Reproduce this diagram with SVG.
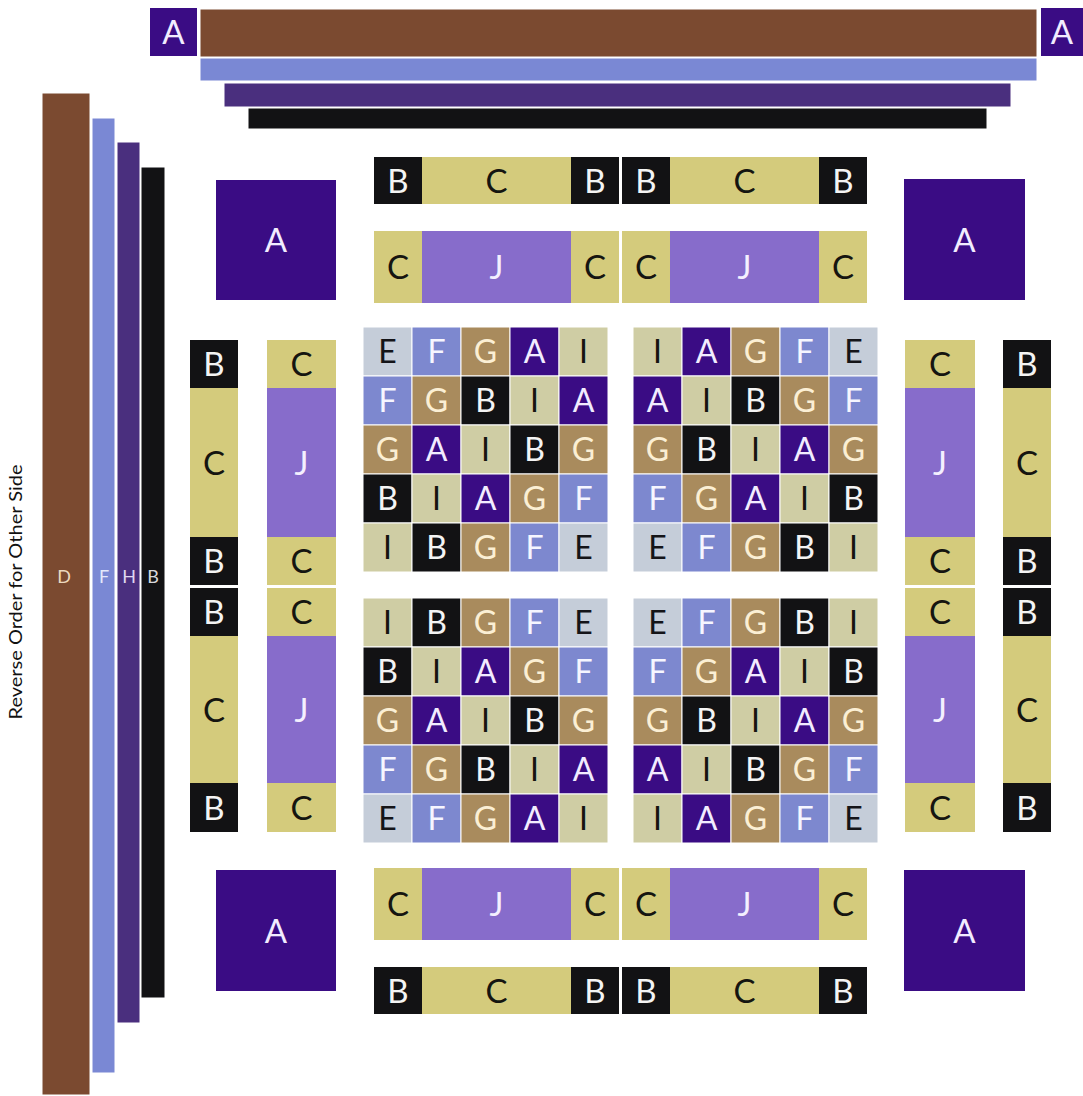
<svg xmlns="http://www.w3.org/2000/svg" width="1083" height="1096" viewBox="0 0 1083 1096">
<style>
text{font-family:Lato,"Open Sans","Liberation Sans",sans-serif;text-anchor:middle}
.c rect{stroke:#fff;stroke-width:1}
.c text{font-size:32px}
.s text{font-size:33px}
.A rect{fill:#3a0c84}.A text{fill:#f2ecff}
.B rect{fill:#121214}.B text{fill:#f4f4f4}
.C rect{fill:#d4cb7c}.C text{fill:#151510}
.E rect{fill:#c5cdd9}.E text{fill:#141418}
.F rect{fill:#7d88cf}.F text{fill:#f6f6ff}
.G rect{fill:#a98b5d}.G text{fill:#fbefd4}
.I rect{fill:#cfcda4}.I text{fill:#151510}
.J rect{fill:#876ccb}.J text{fill:#f4f0ff}
.bar{stroke:#fff;stroke-width:1}
.lbl{font-size:18px}
</style>
<rect width="1083" height="1096" fill="#fff"/>

<!-- top border strips -->
<g id="top-strips">
<g id="top-A-left" class="A s"><rect x="150" y="8" width="47" height="48"/><text x="173.5" y="44">A</text></g>
<rect class="bar" x="200" y="9" width="837" height="48" fill="#7b4a30"/>
<rect class="bar" x="200" y="58" width="837" height="23" fill="#7a88d4"/>
<rect class="bar" x="224" y="83" width="787" height="24" fill="#4a2f7e"/>
<rect class="bar" x="248" y="108" width="739" height="21" fill="#121214"/>
<g id="top-A-right" class="A s"><rect x="1041" y="8" width="42" height="48"/><text x="1062" y="44">A</text></g>
</g>

<!-- left border strips -->
<g id="left-strips">
<rect class="bar" x="42" y="93" width="48" height="1002" fill="#7b4a30"/>
<rect class="bar" x="92" y="118" width="23" height="955" fill="#7a88d4"/>
<rect class="bar" x="117" y="142" width="23" height="881" fill="#4a2f7e"/>
<rect class="bar" x="141" y="167" width="24" height="831" fill="#121214"/>
<text class="lbl" x="64" y="583" fill="#ecd9bf">D</text>
<text class="lbl" x="104" y="583" fill="#e4e8fb">F</text>
<text class="lbl" x="129" y="583" fill="#e0d8f0">H</text>
<text class="lbl" x="153" y="583" fill="#d8d8dc">B</text>
</g>
<text id="side-note" transform="translate(22,592) rotate(-90)" font-size="18" fill="#111" textLength="255" lengthAdjust="spacingAndGlyphs">Reverse Order for Other Side</text>

<!-- corner A squares -->
<g id="A-tl" class="A s"><rect x="216" y="180" width="120" height="120"/><text x="276" y="252">A</text></g>
<g id="A-tr" class="A s"><rect x="904" y="179" width="121" height="121"/><text x="964.5" y="252">A</text></g>
<g id="A-bl" class="A s"><rect x="216" y="870" width="120" height="121"/><text x="276" y="943">A</text></g>
<g id="A-br" class="A s"><rect x="904" y="870" width="121" height="121"/><text x="964.5" y="943">A</text></g>

<!-- top rows -->
<g id="top-bcb" class="s">
<g id="tb1" class="B"><rect x="374" y="157" width="48" height="47"/><text x="398" y="192.5">B</text></g>
<g id="tb2" class="C"><rect x="422" y="157" width="149" height="47"/><text x="496.5" y="192.5">C</text></g>
<g id="tb3" class="B"><rect x="571" y="157" width="48" height="47"/><text x="595" y="192.5">B</text></g>
<g id="tb4" class="B"><rect x="622" y="157" width="48" height="47"/><text x="646" y="192.5">B</text></g>
<g id="tb5" class="C"><rect x="670" y="157" width="149" height="47"/><text x="744.5" y="192.5">C</text></g>
<g id="tb6" class="B"><rect x="819" y="157" width="48" height="47"/><text x="843" y="192.5">B</text></g>
</g>
<g id="top-cjc" class="s">
<g id="tj1" class="C"><rect x="374" y="231" width="48" height="72"/><text x="398" y="279">C</text></g>
<g id="tj2" class="J"><rect x="422" y="231" width="149" height="72"/><text x="496.5" y="279">J</text></g>
<g id="tj3" class="C"><rect x="571" y="231" width="48" height="72"/><text x="595" y="279">C</text></g>
<g id="tj4" class="C"><rect x="622" y="231" width="48" height="72"/><text x="646" y="279">C</text></g>
<g id="tj5" class="J"><rect x="670" y="231" width="149" height="72"/><text x="744.5" y="279">J</text></g>
<g id="tj6" class="C"><rect x="819" y="231" width="48" height="72"/><text x="843" y="279">C</text></g>
</g>

<!-- bottom rows -->
<g id="bot-cjc" class="s">
<g id="bj1" class="C"><rect x="374" y="868" width="48" height="72"/><text x="398" y="916">C</text></g>
<g id="bj2" class="J"><rect x="422" y="868" width="149" height="72"/><text x="496.5" y="916">J</text></g>
<g id="bj3" class="C"><rect x="571" y="868" width="48" height="72"/><text x="595" y="916">C</text></g>
<g id="bj4" class="C"><rect x="622" y="868" width="48" height="72"/><text x="646" y="916">C</text></g>
<g id="bj5" class="J"><rect x="670" y="868" width="149" height="72"/><text x="744.5" y="916">J</text></g>
<g id="bj6" class="C"><rect x="819" y="868" width="48" height="72"/><text x="843" y="916">C</text></g>
</g>
<g id="bot-bcb" class="s">
<g id="bb1" class="B"><rect x="374" y="967" width="48" height="47"/><text x="398" y="1002.5">B</text></g>
<g id="bb2" class="C"><rect x="422" y="967" width="149" height="47"/><text x="496.5" y="1002.5">C</text></g>
<g id="bb3" class="B"><rect x="571" y="967" width="48" height="47"/><text x="595" y="1002.5">B</text></g>
<g id="bb4" class="B"><rect x="622" y="967" width="48" height="47"/><text x="646" y="1002.5">B</text></g>
<g id="bb5" class="C"><rect x="670" y="967" width="149" height="47"/><text x="744.5" y="1002.5">C</text></g>
<g id="bb6" class="B"><rect x="819" y="967" width="48" height="47"/><text x="843" y="1002.5">B</text></g>
</g>

<!-- left columns -->
<g id="left-bcb" class="s">
<g id="lb1" class="B"><rect x="190" y="340" width="48" height="48"/><text x="214" y="376">B</text></g>
<g id="lb2" class="C"><rect x="190" y="388" width="48" height="149"/><text x="214" y="474.5">C</text></g>
<g id="lb3" class="B"><rect x="190" y="537" width="48" height="48"/><text x="214" y="573">B</text></g>
<g id="lb4" class="B"><rect x="190" y="588" width="48" height="48"/><text x="214" y="624">B</text></g>
<g id="lb5" class="C"><rect x="190" y="636" width="48" height="147"/><text x="214" y="721.5">C</text></g>
<g id="lb6" class="B"><rect x="190" y="783" width="48" height="49"/><text x="214" y="819.5">B</text></g>
</g>
<g id="left-cjc" class="s">
<g id="lj1" class="C"><rect x="267" y="340" width="69" height="48"/><text x="301.5" y="376">C</text></g>
<g id="lj2" class="J"><rect x="267" y="388" width="69" height="149"/><text x="301.5" y="474.5">J</text></g>
<g id="lj3" class="C"><rect x="267" y="537" width="69" height="48"/><text x="301.5" y="573">C</text></g>
<g id="lj4" class="C"><rect x="267" y="588" width="69" height="48"/><text x="301.5" y="624">C</text></g>
<g id="lj5" class="J"><rect x="267" y="636" width="69" height="147"/><text x="301.5" y="721.5">J</text></g>
<g id="lj6" class="C"><rect x="267" y="783" width="69" height="49"/><text x="301.5" y="819.5">C</text></g>
</g>

<!-- right columns -->
<g id="right-cjc" class="s">
<g id="rj1" class="C"><rect x="905" y="340" width="70" height="48"/><text x="940" y="376">C</text></g>
<g id="rj2" class="J"><rect x="905" y="388" width="70" height="149"/><text x="940" y="474.5">J</text></g>
<g id="rj3" class="C"><rect x="905" y="537" width="70" height="48"/><text x="940" y="573">C</text></g>
<g id="rj4" class="C"><rect x="905" y="588" width="70" height="48"/><text x="940" y="624">C</text></g>
<g id="rj5" class="J"><rect x="905" y="636" width="70" height="147"/><text x="940" y="721.5">J</text></g>
<g id="rj6" class="C"><rect x="905" y="783" width="70" height="49"/><text x="940" y="819.5">C</text></g>
</g>
<g id="right-bcb" class="s">
<g id="rb1" class="B"><rect x="1003" y="340" width="48" height="48"/><text x="1027" y="376">B</text></g>
<g id="rb2" class="C"><rect x="1003" y="388" width="48" height="149"/><text x="1027" y="474.5">C</text></g>
<g id="rb3" class="B"><rect x="1003" y="537" width="48" height="48"/><text x="1027" y="573">B</text></g>
<g id="rb4" class="B"><rect x="1003" y="588" width="48" height="48"/><text x="1027" y="624">B</text></g>
<g id="rb5" class="C"><rect x="1003" y="636" width="48" height="147"/><text x="1027" y="721.5">C</text></g>
<g id="rb6" class="B"><rect x="1003" y="783" width="48" height="49"/><text x="1027" y="819.5">B</text></g>
</g>

<!-- center grid top-left -->
<g id="grid-tl" class="c">
<g class="E"><rect x="363" y="327" width="49" height="49"/><text x="387.5" y="363">E</text></g>
<g class="F"><rect x="412" y="327" width="49" height="49"/><text x="436.5" y="363">F</text></g>
<g class="G"><rect x="461" y="327" width="49" height="49"/><text x="485.5" y="363">G</text></g>
<g class="A"><rect x="510" y="327" width="49" height="49"/><text x="534.5" y="363">A</text></g>
<g class="I"><rect x="559" y="327" width="49" height="49"/><text x="583.5" y="363">I</text></g>
<g class="F"><rect x="363" y="376" width="49" height="49"/><text x="387.5" y="412">F</text></g>
<g class="G"><rect x="412" y="376" width="49" height="49"/><text x="436.5" y="412">G</text></g>
<g class="B"><rect x="461" y="376" width="49" height="49"/><text x="485.5" y="412">B</text></g>
<g class="I"><rect x="510" y="376" width="49" height="49"/><text x="534.5" y="412">I</text></g>
<g class="A"><rect x="559" y="376" width="49" height="49"/><text x="583.5" y="412">A</text></g>
<g class="G"><rect x="363" y="425" width="49" height="49"/><text x="387.5" y="461">G</text></g>
<g class="A"><rect x="412" y="425" width="49" height="49"/><text x="436.5" y="461">A</text></g>
<g class="I"><rect x="461" y="425" width="49" height="49"/><text x="485.5" y="461">I</text></g>
<g class="B"><rect x="510" y="425" width="49" height="49"/><text x="534.5" y="461">B</text></g>
<g class="G"><rect x="559" y="425" width="49" height="49"/><text x="583.5" y="461">G</text></g>
<g class="B"><rect x="363" y="474" width="49" height="49"/><text x="387.5" y="510">B</text></g>
<g class="I"><rect x="412" y="474" width="49" height="49"/><text x="436.5" y="510">I</text></g>
<g class="A"><rect x="461" y="474" width="49" height="49"/><text x="485.5" y="510">A</text></g>
<g class="G"><rect x="510" y="474" width="49" height="49"/><text x="534.5" y="510">G</text></g>
<g class="F"><rect x="559" y="474" width="49" height="49"/><text x="583.5" y="510">F</text></g>
<g class="I"><rect x="363" y="523" width="49" height="49"/><text x="387.5" y="559">I</text></g>
<g class="B"><rect x="412" y="523" width="49" height="49"/><text x="436.5" y="559">B</text></g>
<g class="G"><rect x="461" y="523" width="49" height="49"/><text x="485.5" y="559">G</text></g>
<g class="F"><rect x="510" y="523" width="49" height="49"/><text x="534.5" y="559">F</text></g>
<g class="E"><rect x="559" y="523" width="49" height="49"/><text x="583.5" y="559">E</text></g>
</g>

<!-- center grid top-right -->
<g id="grid-tr" class="c">
<g class="I"><rect x="633" y="327" width="49" height="49"/><text x="657.5" y="363">I</text></g>
<g class="A"><rect x="682" y="327" width="49" height="49"/><text x="706.5" y="363">A</text></g>
<g class="G"><rect x="731" y="327" width="49" height="49"/><text x="755.5" y="363">G</text></g>
<g class="F"><rect x="780" y="327" width="49" height="49"/><text x="804.5" y="363">F</text></g>
<g class="E"><rect x="829" y="327" width="49" height="49"/><text x="853.5" y="363">E</text></g>
<g class="A"><rect x="633" y="376" width="49" height="49"/><text x="657.5" y="412">A</text></g>
<g class="I"><rect x="682" y="376" width="49" height="49"/><text x="706.5" y="412">I</text></g>
<g class="B"><rect x="731" y="376" width="49" height="49"/><text x="755.5" y="412">B</text></g>
<g class="G"><rect x="780" y="376" width="49" height="49"/><text x="804.5" y="412">G</text></g>
<g class="F"><rect x="829" y="376" width="49" height="49"/><text x="853.5" y="412">F</text></g>
<g class="G"><rect x="633" y="425" width="49" height="49"/><text x="657.5" y="461">G</text></g>
<g class="B"><rect x="682" y="425" width="49" height="49"/><text x="706.5" y="461">B</text></g>
<g class="I"><rect x="731" y="425" width="49" height="49"/><text x="755.5" y="461">I</text></g>
<g class="A"><rect x="780" y="425" width="49" height="49"/><text x="804.5" y="461">A</text></g>
<g class="G"><rect x="829" y="425" width="49" height="49"/><text x="853.5" y="461">G</text></g>
<g class="F"><rect x="633" y="474" width="49" height="49"/><text x="657.5" y="510">F</text></g>
<g class="G"><rect x="682" y="474" width="49" height="49"/><text x="706.5" y="510">G</text></g>
<g class="A"><rect x="731" y="474" width="49" height="49"/><text x="755.5" y="510">A</text></g>
<g class="I"><rect x="780" y="474" width="49" height="49"/><text x="804.5" y="510">I</text></g>
<g class="B"><rect x="829" y="474" width="49" height="49"/><text x="853.5" y="510">B</text></g>
<g class="E"><rect x="633" y="523" width="49" height="49"/><text x="657.5" y="559">E</text></g>
<g class="F"><rect x="682" y="523" width="49" height="49"/><text x="706.5" y="559">F</text></g>
<g class="G"><rect x="731" y="523" width="49" height="49"/><text x="755.5" y="559">G</text></g>
<g class="B"><rect x="780" y="523" width="49" height="49"/><text x="804.5" y="559">B</text></g>
<g class="I"><rect x="829" y="523" width="49" height="49"/><text x="853.5" y="559">I</text></g>
</g>

<!-- center grid bottom-left -->
<g id="grid-bl" class="c">
<g class="I"><rect x="363" y="598" width="49" height="49"/><text x="387.5" y="634">I</text></g>
<g class="B"><rect x="412" y="598" width="49" height="49"/><text x="436.5" y="634">B</text></g>
<g class="G"><rect x="461" y="598" width="49" height="49"/><text x="485.5" y="634">G</text></g>
<g class="F"><rect x="510" y="598" width="49" height="49"/><text x="534.5" y="634">F</text></g>
<g class="E"><rect x="559" y="598" width="49" height="49"/><text x="583.5" y="634">E</text></g>
<g class="B"><rect x="363" y="647" width="49" height="49"/><text x="387.5" y="683">B</text></g>
<g class="I"><rect x="412" y="647" width="49" height="49"/><text x="436.5" y="683">I</text></g>
<g class="A"><rect x="461" y="647" width="49" height="49"/><text x="485.5" y="683">A</text></g>
<g class="G"><rect x="510" y="647" width="49" height="49"/><text x="534.5" y="683">G</text></g>
<g class="F"><rect x="559" y="647" width="49" height="49"/><text x="583.5" y="683">F</text></g>
<g class="G"><rect x="363" y="696" width="49" height="49"/><text x="387.5" y="732">G</text></g>
<g class="A"><rect x="412" y="696" width="49" height="49"/><text x="436.5" y="732">A</text></g>
<g class="I"><rect x="461" y="696" width="49" height="49"/><text x="485.5" y="732">I</text></g>
<g class="B"><rect x="510" y="696" width="49" height="49"/><text x="534.5" y="732">B</text></g>
<g class="G"><rect x="559" y="696" width="49" height="49"/><text x="583.5" y="732">G</text></g>
<g class="F"><rect x="363" y="745" width="49" height="49"/><text x="387.5" y="781">F</text></g>
<g class="G"><rect x="412" y="745" width="49" height="49"/><text x="436.5" y="781">G</text></g>
<g class="B"><rect x="461" y="745" width="49" height="49"/><text x="485.5" y="781">B</text></g>
<g class="I"><rect x="510" y="745" width="49" height="49"/><text x="534.5" y="781">I</text></g>
<g class="A"><rect x="559" y="745" width="49" height="49"/><text x="583.5" y="781">A</text></g>
<g class="E"><rect x="363" y="794" width="49" height="49"/><text x="387.5" y="830">E</text></g>
<g class="F"><rect x="412" y="794" width="49" height="49"/><text x="436.5" y="830">F</text></g>
<g class="G"><rect x="461" y="794" width="49" height="49"/><text x="485.5" y="830">G</text></g>
<g class="A"><rect x="510" y="794" width="49" height="49"/><text x="534.5" y="830">A</text></g>
<g class="I"><rect x="559" y="794" width="49" height="49"/><text x="583.5" y="830">I</text></g>
</g>

<!-- center grid bottom-right -->
<g id="grid-br" class="c">
<g class="E"><rect x="633" y="598" width="49" height="49"/><text x="657.5" y="634">E</text></g>
<g class="F"><rect x="682" y="598" width="49" height="49"/><text x="706.5" y="634">F</text></g>
<g class="G"><rect x="731" y="598" width="49" height="49"/><text x="755.5" y="634">G</text></g>
<g class="B"><rect x="780" y="598" width="49" height="49"/><text x="804.5" y="634">B</text></g>
<g class="I"><rect x="829" y="598" width="49" height="49"/><text x="853.5" y="634">I</text></g>
<g class="F"><rect x="633" y="647" width="49" height="49"/><text x="657.5" y="683">F</text></g>
<g class="G"><rect x="682" y="647" width="49" height="49"/><text x="706.5" y="683">G</text></g>
<g class="A"><rect x="731" y="647" width="49" height="49"/><text x="755.5" y="683">A</text></g>
<g class="I"><rect x="780" y="647" width="49" height="49"/><text x="804.5" y="683">I</text></g>
<g class="B"><rect x="829" y="647" width="49" height="49"/><text x="853.5" y="683">B</text></g>
<g class="G"><rect x="633" y="696" width="49" height="49"/><text x="657.5" y="732">G</text></g>
<g class="B"><rect x="682" y="696" width="49" height="49"/><text x="706.5" y="732">B</text></g>
<g class="I"><rect x="731" y="696" width="49" height="49"/><text x="755.5" y="732">I</text></g>
<g class="A"><rect x="780" y="696" width="49" height="49"/><text x="804.5" y="732">A</text></g>
<g class="G"><rect x="829" y="696" width="49" height="49"/><text x="853.5" y="732">G</text></g>
<g class="A"><rect x="633" y="745" width="49" height="49"/><text x="657.5" y="781">A</text></g>
<g class="I"><rect x="682" y="745" width="49" height="49"/><text x="706.5" y="781">I</text></g>
<g class="B"><rect x="731" y="745" width="49" height="49"/><text x="755.5" y="781">B</text></g>
<g class="G"><rect x="780" y="745" width="49" height="49"/><text x="804.5" y="781">G</text></g>
<g class="F"><rect x="829" y="745" width="49" height="49"/><text x="853.5" y="781">F</text></g>
<g class="I"><rect x="633" y="794" width="49" height="49"/><text x="657.5" y="830">I</text></g>
<g class="A"><rect x="682" y="794" width="49" height="49"/><text x="706.5" y="830">A</text></g>
<g class="G"><rect x="731" y="794" width="49" height="49"/><text x="755.5" y="830">G</text></g>
<g class="F"><rect x="780" y="794" width="49" height="49"/><text x="804.5" y="830">F</text></g>
<g class="E"><rect x="829" y="794" width="49" height="49"/><text x="853.5" y="830">E</text></g>
</g>
</svg>
